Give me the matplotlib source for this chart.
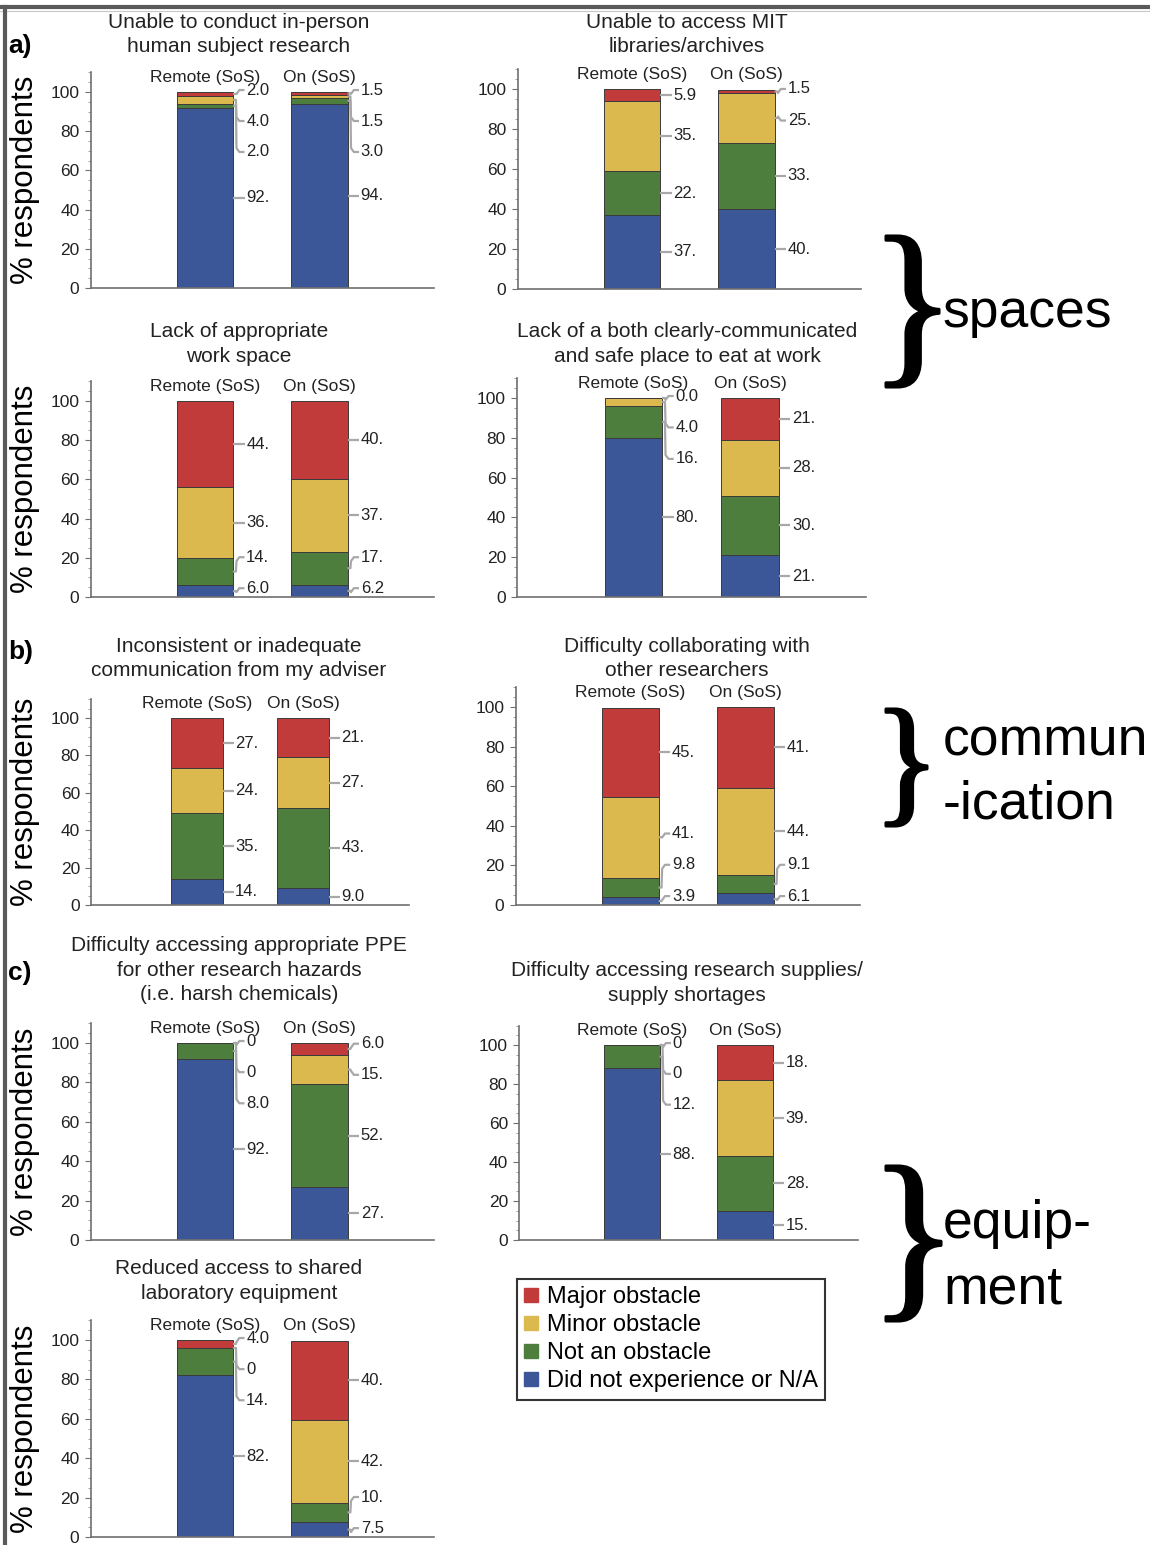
import matplotlib
matplotlib.use("Agg")
import matplotlib.pyplot as plt
from matplotlib.lines import Line2D
from matplotlib.patches import PathPatch
from matplotlib.textpath import TextPath
from matplotlib.font_manager import FontProperties
from matplotlib.transforms import Affine2D
from matplotlib.ticker import MultipleLocator

plt.rcParams['font.family'] = ['Liberation Sans', 'DejaVu Sans']

## ---------------- data ----------------
titles = [
    "Unable to conduct in-person\nhuman subject research",
    "Unable to access MIT\nlibraries/archives",
    "Lack of appropriate\nwork space",
    "Lack of a both clearly-communicated\nand safe place to eat at work",
    "Inconsistent or inadequate\ncommunication from my adviser",
    "Difficulty collaborating with\nother researchers",
    "Difficulty accessing appropriate PPE\nfor other research hazards\n(i.e. harsh chemicals)",
    "Difficulty accessing research supplies/\nsupply shortages",
    "Reduced access to shared\nlaboratory equipment",
]
groups = ["Remote (SoS)", "On (SoS)"]
levels = ["Did not experience or N/A", "Not an obstacle", "Minor obstacle", "Major obstacle"]
colors = ["#3b5797", "#4e7e3d", "#dcb94e", "#c13b3a"]

# ints print as "0", floats as "0.0" (Mathematica style labels)
remote_na    = [92, 37, 6.0, 80, 14, 3.9, 92, 88, 82]
remote_not   = [2.0, 22, 14, 16, 35, 9.8, 8.0, 12, 14]
remote_minor = [4.0, 35, 36, 4.0, 24, 41, 0, 0, 0]
remote_major = [2.0, 5.9, 44, 0.0, 27, 45, 0, 0, 4.0]
on_na        = [94, 40, 6.2, 21, 9.0, 6.1, 27, 15, 7.5]
on_not       = [3.0, 33, 17, 30, 43, 9.1, 52, 28, 10]
on_minor     = [1.5, 25, 37, 28, 27, 44, 15, 39, 42]
on_major     = [1.5, 1.5, 40, 21, 21, 41, 6.0, 18, 40]

## ---------------- layout (pixels of the 1150x1545 canvas) ----------------
W, H = 1150, 1545
# bar-1 centre, bar spacing, y of zero line, pixels per percent
panel_geo = [
    (205, 114.5, 288, 1.96), (632, 114.5, 289, 2.00),
    (205, 114.5, 597, 1.96), (633.5, 116.5, 597, 1.99),
    (197, 106.0, 905, 1.87), (630.5, 115.0, 905, 1.98),
    (205, 114.5, 1240, 1.97), (632, 113.0, 1240, 1.95),
    (205, 114.5, 1537, 1.97),
]
title_y = [34.5, 34.5, 344, 344, 658.5, 658.5, 970, 983, 1281]
col_cx = [239, 687]
YTOP = 110
BARW = 0.49

def fx(x): return x / W
def fy(y): return 1 - y / H

def fmt(v):
    if isinstance(v, int) and v == 0:
        return "0"
    if v >= 10:
        return "%d." % round(v)
    return "%.1f" % v

def spread(desired, gap=15.8, lo=4.5, hi=101.0):
    grp = [[i] for i in range(len(desired))]
    def place(g):
        m = sum(desired[i] for i in g) / len(g)
        pos = [m + (k - (len(g) - 1) / 2) * gap for k in range(len(g))]
        if pos[0] < lo:
            pos = [p + lo - pos[0] for p in pos]
        if pos[-1] > hi:
            pos = [p - (pos[-1] - hi) for p in pos]
        return pos
    while True:
        placed = [place(g) for g in grp]
        merged = False
        for j in range(len(grp) - 1):
            if placed[j + 1][0] - placed[j][-1] < gap - 1e-6:
                grp[j] = grp[j] + grp[j + 1]
                del grp[j + 1]
                merged = True
                break
        if not merged:
            break
    out = []
    for p in placed:
        out += p
    return out

fig = plt.figure(figsize=(W / 100, H / 100), dpi=100)

series = [
    [remote_na, remote_not, remote_minor, remote_major],
    [on_na, on_not, on_minor, on_major],
]

for p in range(9):
    c1, sp, y0, ppu = panel_geo[p]
    left = c1 - sp
    ax = fig.add_axes([fx(left), fy(y0), 3 * sp / W, YTOP * ppu / H])
    ax.set_xlim(0, 3)
    ax.set_ylim(0, YTOP)
    for g in range(2):
        xc = g + 1
        vals = [s[p] for s in series[g]]
        bottom = 0
        mids = []
        for k in range(4):
            ax.bar(xc, vals[k], bottom=bottom, width=BARW, color=colors[k],
                   edgecolor="#3a3a3a", linewidth=0.7, zorder=2)
            mids.append(bottom + vals[k] / 2)
            bottom += vals[k]
        labs = spread(mids)
        xe = xc + BARW / 2
        for k in range(4):
            yd, yl = mids[k], labs[k]
            if abs(yd - yl) < 0.6:
                xs, ys = [xe, xe + 0.1], [yd, yd]
            else:
                s = 1 if yd > yl else -1
                xs = [xe, xe + 0.025, xe + 0.03, xe + 0.055, xe + 0.1]
                ys = [yd, yd, yl + s * 2.0, yl, yl]
            ax.plot(xs, ys, color="#a8a8a8", lw=1.6, clip_on=False, zorder=3,
                    solid_capstyle="butt")
            ax.text(xe + 0.115, yl, fmt(vals[k]), fontsize=12, color="#222222",
                    va="center", ha="left", clip_on=False)
        ax.text(xc, 107.5, groups[g], fontsize=12.5, color="#222222",
                ha="center", va="center", clip_on=False)
    for side in ["top", "right"]:
        ax.spines[side].set_visible(False)
    for side in ["left", "bottom"]:
        ax.spines[side].set_color("#707070")
        ax.spines[side].set_linewidth(1.2)
    ax.set_xticks([])
    ax.yaxis.set_major_locator(MultipleLocator(20))
    ax.yaxis.set_minor_locator(MultipleLocator(5))
    ax.tick_params(axis="y", which="major", length=4, width=0.8, color="#707070",
                   labelsize=12.5, labelcolor="#222222", pad=4)
    ax.tick_params(axis="y", which="minor", length=2, width=0.6, color="#909090")
    ax.patch.set_alpha(0)

    fig.text(fx(col_cx[p % 2]), fy(title_y[p]), titles[p], fontsize=15,
             ha="center", va="center", ma="center", linespacing=1.38, color="#222222")
    if p % 2 == 0:
        fig.text(fx(25), fy(y0 - YTOP * ppu / 2), "% respondents", fontsize=22.5,
                 rotation=90, ha="center", va="center")

## panel letters
for lab, yy in [("a)", 46), ("b)", 652), ("c)", 973)]:
    fig.text(fx(8), fy(yy), lab, fontsize=19, weight="bold", ha="left", va="center")

## legend
handles = [Line2D([], [], marker="s", ls="none", markersize=9.5,
                  markerfacecolor=colors[k], markeredgecolor=colors[k]) for k in [3, 2, 1, 0]]
leg = fig.legend(handles, [levels[k] for k in [3, 2, 1, 0]], loc="upper left",
                 bbox_to_anchor=(fx(517), fy(1279)), fontsize=17, frameon=True,
                 fancybox=False, edgecolor="black", handlelength=0.6,
                 handletextpad=0.35, labelspacing=0.26, borderpad=0.3,
                 borderaxespad=0)
leg.get_frame().set_linewidth(1.5)

## braces with group names
def brace(x0, y0, x1, y1):
    tp = TextPath((0, 0), "}", size=1,
                  prop=FontProperties(family="Liberation Serif"))
    ext = tp.get_extents()
    tr = (Affine2D().translate(-ext.x0, -ext.y0)
          .scale((x1 - x0) / ext.width, (y1 - y0) / ext.height)
          .translate(x0, H - y1).scale(1 / W, 1 / H))
    fig.add_artist(PathPatch(tr.transform_path(tp), transform=fig.transFigure,
                             fc="black", ec="black", lw=2.2, joinstyle="round"))

brace(886, 236, 939, 387)
brace(886, 709, 927, 826)
brace(886, 1166, 941, 1321)
for txt, yy in [("spaces", 327), ("commun", 755), ("-ication", 818),
                ("equip-", 1238), ("ment", 1303)]:
    fig.text(fx(943), fy(yy), txt, fontsize=38.5, ha="left", va="baseline")

## frame edge of the original screenshot
fig.add_artist(Line2D([0, 1], [fy(7), fy(7)], transform=fig.transFigure,
                      color="#5a5a5a", lw=3))
fig.add_artist(Line2D([0, 1], [fy(10.5), fy(10.5)], transform=fig.transFigure,
                      color="#c8c8c8", lw=0.8))
fig.add_artist(Line2D([fx(5), fx(5)], [0, fy(7)], transform=fig.transFigure,
                      color="#5a5a5a", lw=3))

fig.savefig("out.png", dpi=100)
